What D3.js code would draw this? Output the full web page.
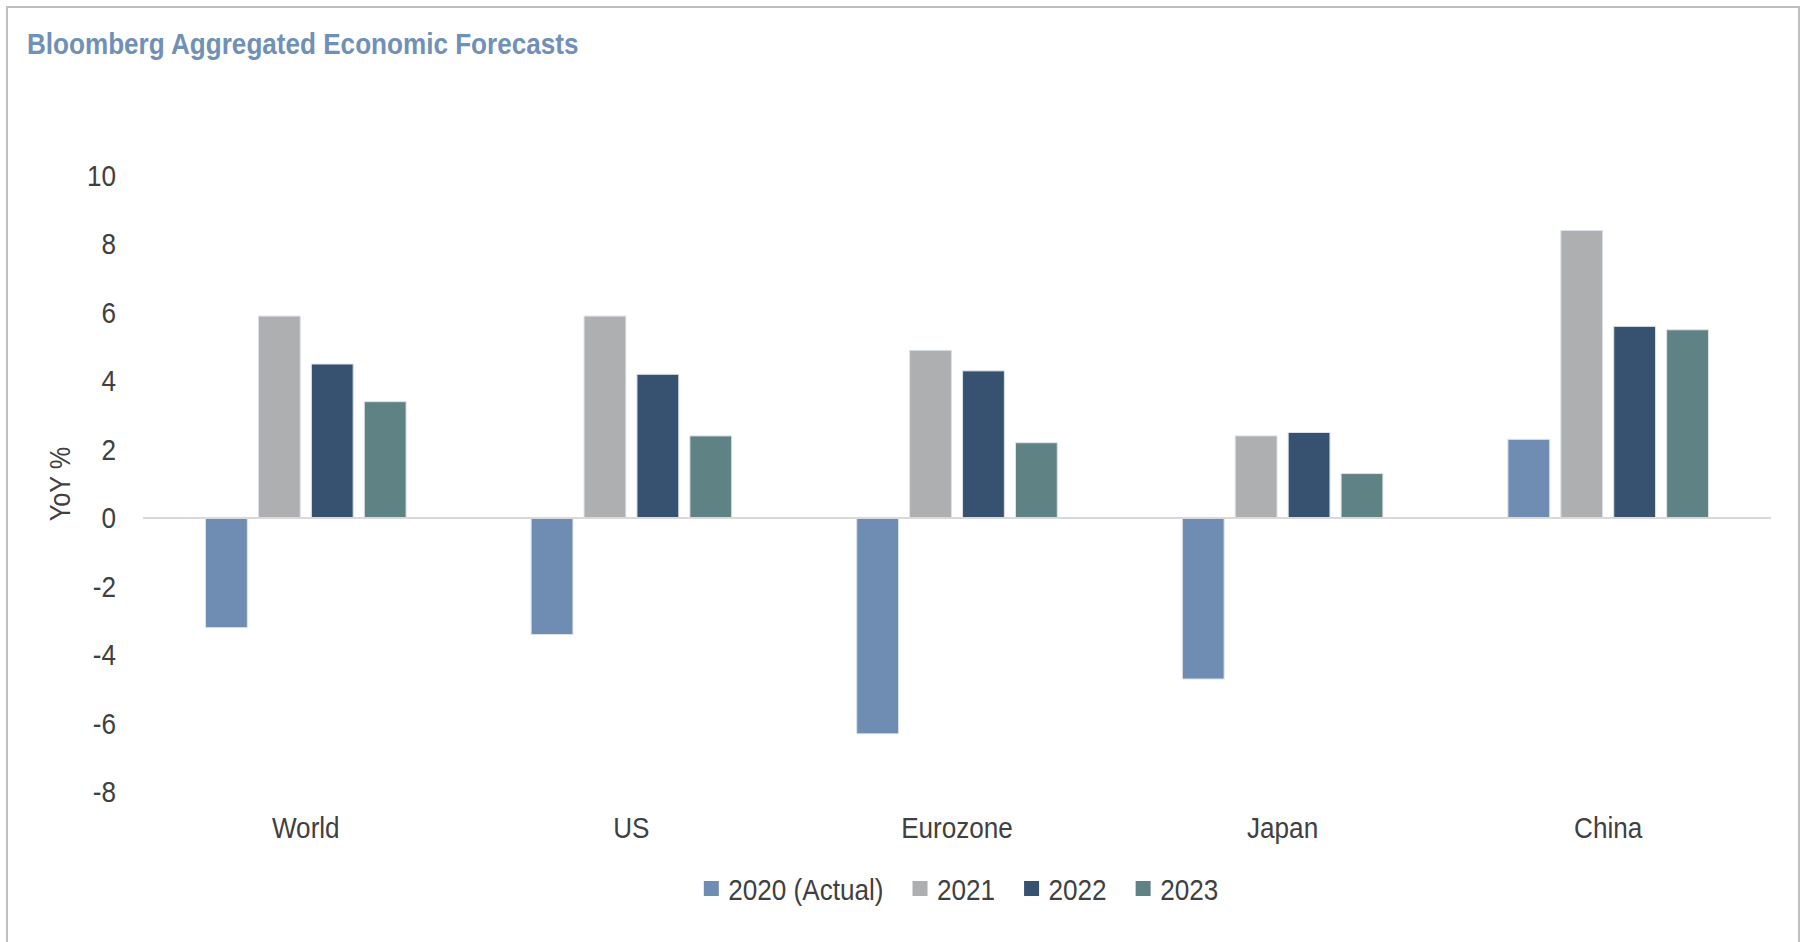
<!DOCTYPE html>
<html>
<head>
<meta charset="utf-8">
<script src="https://cdn.jsdelivr.net/npm/d3@7"></script>
<style>
  html, body { margin: 0; padding: 0; background: #ffffff; }
  svg { display: block; }
  text { font-family: "Liberation Sans", Arial, sans-serif; }
</style>
</head>
<body>
<svg id="chart" width="1801" height="942"></svg>
<script>
// GDP growth forecasts, YoY %
const categories = ["World", "US", "Eurozone", "Japan", "China"];
const seriesNames = ["2020 (Actual)", "2021", "2022", "2023"];
const values2020 = [-3.2, -3.4, -6.3, -4.7, 2.3];
const values2021 = [5.9, 5.9, 4.9, 2.4, 8.4];
const values2022 = [4.5, 4.2, 4.3, 2.5, 5.6];
const values2023 = [3.4, 2.4, 2.2, 1.3, 5.5];
const yTicks = [-8, -6, -4, -2, 0, 2, 4, 6, 8, 10];
const colors = ["#6F8DB2", "#AEAFB1", "#375271", "#5F8285"];

const seriesValues = [values2020, values2021, values2022, values2023];
const rows = categories.map((c, i) => ({
  category: c,
  values: seriesNames.map((s, j) => ({ series: s, value: seriesValues[j][i] }))
}));

// Narrow text: horizontal squeeze applied to every label
const SQUEEZE = 0.87;

const svg = d3.select("#chart");

// Outer frame
svg.append("path")
  .attr("d", "M7,942 V7 H1799 V942")
  .attr("fill", "none")
  .attr("stroke", "#BFBFBF")
  .attr("stroke-width", 2);

// Title
svg.append("text")
  .attr("transform", `translate(27,54) scale(${SQUEEZE},1)`)
  .attr("fill", "#7090B7")
  .attr("font-weight", "bold")
  .attr("font-size", 30)
  .text("Bloomberg Aggregated Economic Forecasts");

const plotLeft = 143, plotRight = 1771;
const y = d3.scaleLinear().domain([-8, 10]).range([792, 175.7]);
const x0 = d3.scaleBand().domain(categories).range([plotLeft, plotRight]).padding(0);
const groupPad = x0.bandwidth() * 0.192;
const x1 = d3.scaleBand().domain(seriesNames)
  .range([groupPad, x0.bandwidth() - groupPad])
  .paddingInner(0.21).paddingOuter(0);
const color = d3.scaleOrdinal().domain(seriesNames).range(colors);

// Y axis labels (no axis line or ticks)
const yAxis = svg.append("g")
  .attr("transform", "translate(116,0)")
  .call(d3.axisLeft(y).tickValues(yTicks).tickFormat(d => String(d)).tickSize(0).tickPadding(0));
yAxis.select(".domain").remove();
yAxis.selectAll("text")
  .attr("x", 0)
  .attr("transform", `scale(${SQUEEZE},1)`)
  .attr("font-size", 30)
  .attr("fill", "#404040")
  .attr("font-family", null);

// Y axis title
svg.append("text")
  .attr("transform", `translate(70,484) rotate(-90) scale(${SQUEEZE},1)`)
  .attr("text-anchor", "middle")
  .attr("font-size", 29)
  .attr("fill", "#404040")
  .text("YoY %");

// Bars
const groups = svg.append("g").selectAll("g")
  .data(rows)
  .join("g")
  .attr("transform", d => `translate(${x0(d.category)},0)`);

groups.selectAll("rect")
  .data(d => d.values)
  .join("rect")
  .attr("x", d => x1(d.series))
  .attr("width", x1.bandwidth())
  .attr("y", d => y(Math.max(0, d.value)))
  .attr("height", d => Math.abs(y(d.value) - y(0)))
  .attr("fill", d => color(d.series))
  .attr("stroke", "#DCE2EA")
  .attr("stroke-width", 1);

// Zero line
svg.append("line")
  .attr("x1", plotLeft).attr("x2", plotRight)
  .attr("y1", y(0)).attr("y2", y(0))
  .attr("stroke", "#D9D9D9")
  .attr("stroke-width", 2);

// Category labels
const xAxis = svg.append("g")
  .attr("transform", "translate(0,812)")
  .call(d3.axisBottom(x0).tickSize(0).tickPadding(0));
xAxis.select(".domain").remove();
xAxis.selectAll("text")
  .attr("y", 0)
  .attr("transform", `scale(${SQUEEZE},1)`)
  .attr("font-size", 30)
  .attr("fill", "#404040")
  .attr("font-family", null)
  .attr("dy", "0.88em");

// Legend
const legend = svg.append("g");
const items = legend.selectAll("g")
  .data(seriesNames)
  .join("g");
items.append("rect")
  .attr("width", 15).attr("height", 15)
  .attr("y", -8)
  .attr("fill", d => color(d));
items.append("text")
  .attr("transform", `translate(24.5,0) scale(${SQUEEZE},1)`)
  .attr("dy", "0.36em")
  .attr("font-size", 30)
  .attr("fill", "#404040")
  .text(d => d);
let cursor = 0;
items.each(function () {
  const g = d3.select(this);
  const w = g.select("text").node().getComputedTextLength() * SQUEEZE;
  g.attr("transform", `translate(${cursor},0)`);
  cursor += 24.5 + w + 29;
});
const legendWidth = cursor - 29;
legend.attr("transform", `translate(${961 - legendWidth / 2},889)`);
</script>
</body>
</html>
